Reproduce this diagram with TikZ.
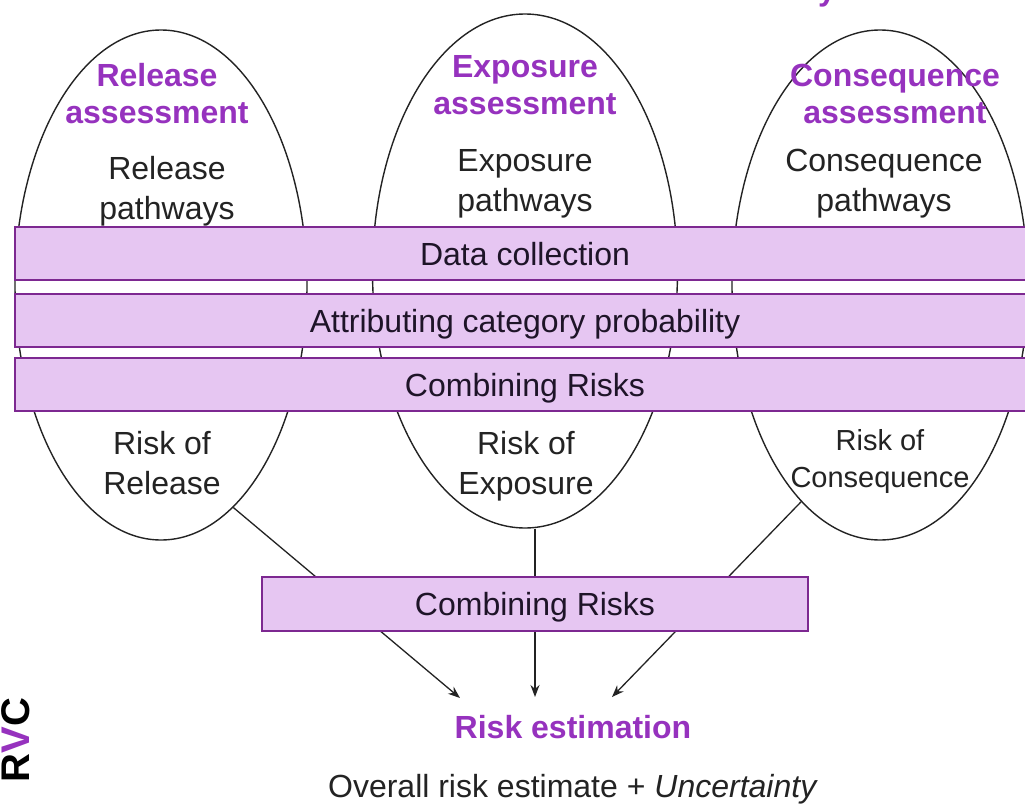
\documentclass[tikz,border=0pt]{standalone}
\usepackage{fontspec}
\setmainfont{Liberation Sans}
\usetikzlibrary{shapes.geometric,arrows.meta}
\definecolor{hdpurple}{RGB}{150,50,190}
\definecolor{barfill}{RGB}{230,198,242}
\definecolor{bardraw}{RGB}{125,40,145}
\definecolor{bartext}{RGB}{30,20,40}
\definecolor{ink}{RGB}{35,35,35}
\begin{document}
\begin{tikzpicture}[x=1pt,y=-1pt,
  oval/.style={ellipse, draw=ink, line width=1.4pt, inner sep=0pt},
  bar/.style={draw=bardraw, fill=barfill, line width=1.6pt, inner sep=0pt,
              text height=23pt, text depth=0pt,
              font=\fontsize{32}{38}\selectfont, text=bartext},
  head/.style={font=\fontsize{32}{37}\selectfont\bfseries, text=hdpurple, align=center},
  body/.style={font=\fontsize{32}{40}\selectfont, text=ink, align=center},
  link/.style={draw=ink, line width=1.3pt},
  arr/.style={link, -{Stealth[length=12pt,width=9pt]}}
]
\useasboundingbox (0,0) rectangle (1025,803);
\clip (0,0) rectangle (1025,803);
\fill[white] (0,0) rectangle (1025,803);

% ellipses
\node[oval, minimum width=292pt, minimum height=510pt] (L) at (161,285) {};
\node[oval, minimum width=305pt, minimum height=514pt] (M) at (525,271) {};
\node[oval, minimum width=296pt, minimum height=510pt] (R) at (880,285) {};

% arrow tips
\coordinate (tL) at (460,698);
\coordinate (tM) at (535,697);
\coordinate (tR) at (612,697);

% connectors (pass behind the lower box)
\draw[arr] (L.-72) -- (tL);
\draw[arr] (M.south -| tM) -- (tM);
\draw[arr] (R.-110) -- (tR);

% bars
\node[bar, minimum width=1020pt, minimum height=53pt] (dc) at (525,253.5) {Data collection};
\node[bar, minimum width=1020pt, minimum height=53pt] (acp) at (525,320.5) {Attributing category probability};
\node[bar, minimum width=1020pt, minimum height=53pt] (cr1) at (525,384.5) {Combining Risks};
\node[bar, minimum width=546pt, minimum height=54pt] (cr2) at (535,604) {Combining Risks};

% headings
\node[head] (hL) at (157,94) {Release\\assessment};
\node[head] (hM) at (525,85) {Exposure\\assessment};
\node[head] (hR) at (895,94) {Consequence\\assessment};

% pathways
\node[body] (pL) at (167,191) {Release\\pathways};
\node[body] (pM) at (525,184) {Exposure\\pathways};
\node[body] (pR) at (884,184) {Consequence\\pathways};

% risks
\node[body] (rL) at (162,463) {Risk of\\Release};
\node[body] (rM) at (526,466) {Risk of\\Exposure};
\node[body, font=\fontsize{29}{37}\selectfont] (rR) at (880,461) {Risk of\\Consequence};

% result
\node[head] (est) at (573,727) {Risk estimation};
\node[body] (ov) at (573,789) {Overall risk estimate + \textit{Uncertainty}};

% logo and cut title fragment
\node[rotate=90, font=\fontsize{40}{40}\selectfont\bfseries, text=black] (rvc) at (16,740) {R\textcolor{hdpurple}{V}C};
\node[head, anchor=base] (frag) at (827,1) {y};
\end{tikzpicture}
\end{document}
